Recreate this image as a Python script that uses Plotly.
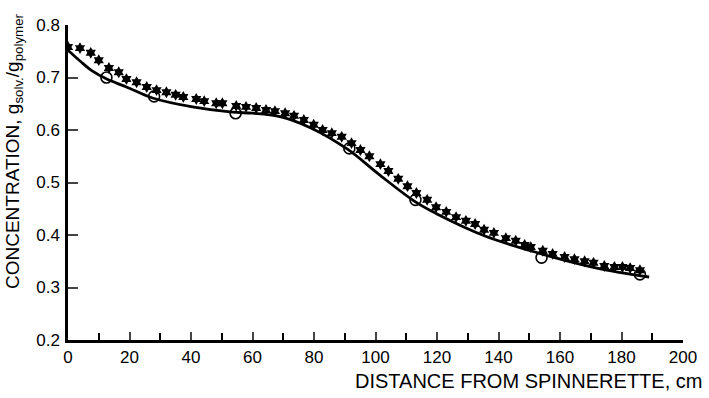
import plotly.graph_objects as go

# Model curve (solid line)
line_x = [0, 4, 8, 12.6, 19, 27.5, 40.5, 53.4, 60, 68.6, 79, 91, 101, 113, 120, 135.6, 152.8, 172, 189]
line_y = [0.752, 0.731, 0.712, 0.697, 0.682, 0.661, 0.644, 0.634, 0.632, 0.626, 0.604, 0.563, 0.516, 0.463, 0.440, 0.398, 0.366, 0.337, 0.320]

# Experimental points (open circles)
circ_x = [12.5, 28, 54.5, 91.5, 113, 154, 186]
circ_y = [0.700, 0.664, 0.632, 0.565, 0.467, 0.357, 0.325]

# Second data set (stars)
star_x = [0, 3.9, 7.4, 10, 13.3, 16.5, 19, 22.3, 25.6, 28.8, 32, 35, 37.5, 41.7, 44.3, 48.2, 50.2,
          54.7, 57.9, 61.2, 64.4, 67.3, 70.6, 73.5, 76.7, 79.9, 82.8, 85.8, 89, 92.2, 95.1, 98,
          101.6, 104.2, 107.4, 110.4, 113.3, 116.8, 119.7, 123, 126.2, 129.4, 132.4, 135.3, 138.5,
          142.4, 145.6, 148.5, 150.5, 154.4, 157.6, 161.5, 164.7, 168, 170.9, 174.4, 177.7, 180.3,
          182.8, 186]
star_y = [0.758, 0.756, 0.747, 0.733, 0.718, 0.710, 0.697, 0.691, 0.682, 0.676, 0.672, 0.667, 0.663,
          0.659, 0.655, 0.651, 0.651, 0.646, 0.644, 0.642, 0.638, 0.636, 0.632, 0.627, 0.619, 0.610,
          0.600, 0.594, 0.587, 0.575, 0.562, 0.550, 0.535, 0.522, 0.507, 0.493, 0.480, 0.467, 0.453,
          0.444, 0.434, 0.427, 0.421, 0.410, 0.404, 0.394, 0.389, 0.381, 0.377, 0.370, 0.364, 0.358,
          0.354, 0.350, 0.347, 0.341, 0.339, 0.339, 0.337, 0.333]

x_ticks = [0, 20, 40, 60, 80, 100, 120, 140, 160, 180, 200]
y_ticks = [0.2, 0.3, 0.4, 0.5, 0.6, 0.7, 0.8]

FONT = "Liberation Sans, Arial, sans-serif"

fig = go.Figure()
fig.add_trace(go.Scatter(x=line_x, y=line_y, mode="lines",
                         line=dict(color="black", width=2.8, shape="spline", smoothing=1.0), showlegend=False))
fig.add_trace(go.Scatter(x=star_x, y=star_y, mode="markers",
                         marker=dict(symbol="hexagram", size=9, color="black"), showlegend=False))
fig.add_trace(go.Scatter(x=circ_x, y=circ_y, mode="markers",
                         marker=dict(symbol="circle-open", size=11, color="black", line=dict(width=1.6)), showlegend=False))

fig.update_layout(
    width=709, height=398,
    margin=dict(l=68, r=22, t=25, b=58),
    paper_bgcolor="white", plot_bgcolor="white",
    font=dict(family=FONT, color="black", size=16),
    xaxis=dict(range=[0, 200], tickvals=x_ticks, ticks="inside", ticklen=8, tickwidth=2,
               showline=True, linecolor="black", linewidth=2.5, showgrid=False, zeroline=False,
               tickfont=dict(size=17), ticklabelstandoff=0,
               minor=dict(ticks="inside", dtick=10, ticklen=7, tickwidth=2, tickcolor="black")),
    yaxis=dict(range=[0.2, 0.8], tickvals=y_ticks, ticktext=[f"{v:.1f}" for v in y_ticks],
               ticks="inside", ticklen=10, tickwidth=2, ticklabelstandoff=2,
               showline=True, linecolor="black", linewidth=2.5, showgrid=False, zeroline=False,
               tickfont=dict(size=17)),
    annotations=[
        dict(text="DISTANCE FROM SPINNERETTE, cm", x=1.0, xref="paper", xanchor="right", xshift=21,
             y=-0.13, yref="paper", yanchor="middle", showarrow=False, font=dict(size=20)),
        dict(text="CONCENTRATION, g<sub>solv.</sub>/g<sub>polymer</sub>", textangle=-90,
             x=0, xref="paper", xanchor="center", xshift=-54,
             y=0.6, yref="paper", yanchor="middle", showarrow=False, font=dict(size=19)),
    ],
)

fig.write_html("out.html")
